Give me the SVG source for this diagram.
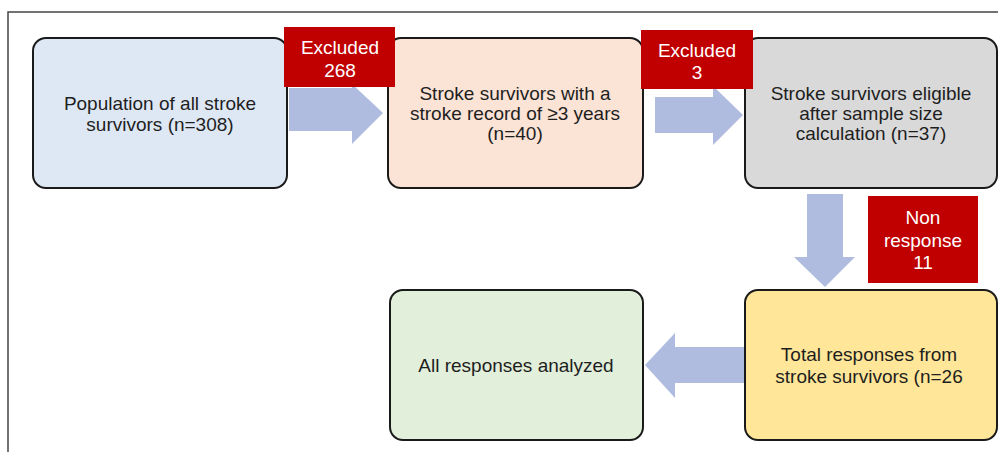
<svg xmlns="http://www.w3.org/2000/svg" width="998" height="452" viewBox="0 0 998 452">
<style>
.box{stroke:#1a1a1a;stroke-width:2}
.t{font-family:"Liberation Sans",Arial,sans-serif;font-size:19px;fill:#1e1e1e;text-anchor:middle}
.w{font-family:"Liberation Sans",Arial,sans-serif;font-size:19px;fill:#fff;text-anchor:middle}
.red{fill:#c00000}
.arr{fill:#b0bcdf}
</style>
<rect width="998" height="452" fill="#fff"/>
<path d="M8,452 V12 H998" fill="none" stroke="#444" stroke-width="1.5"/>
<g id="connectors">
<polygon class="arr" points="289,88 352,88 352,84 383,113 352,144 352,131 289,131"/>
<polygon class="arr" points="655,97 713,97 713,86 743,115 713,145 713,133 655,133"/>
<polygon class="arr" points="807,194 843,194 843,257 855,257 825,287 794,257 807,257"/>
<polygon class="arr" points="748,347 675,347 675,333 645,365 675,398 675,383 748,383"/>
</g>
<g id="n1"><rect class="box" x="33" y="38" width="254" height="150" rx="13" fill="#dee8f5"/>
<text class="t" x="160" y="110">Population of all stroke</text><text class="t" x="160" y="131">survivors (n=308)</text></g>
<g id="n2"><rect class="box" x="388" y="38" width="255" height="150" rx="13" fill="#fbe3d5"/>
<text class="t" x="515" y="100">Stroke survivors with a</text><text class="t" x="515" y="120">stroke record of ≥3 years</text><text class="t" x="515" y="140">(n=40)</text></g>
<g id="n3"><rect class="box" x="745" y="38" width="252" height="150" rx="13" fill="#d9d9d9"/>
<text class="t" x="871" y="100">Stroke survivors eligible</text><text class="t" x="871" y="120">after sample size</text><text class="t" x="871" y="140">calculation (n=37)</text></g>
<g id="n4"><rect class="box" x="745" y="290" width="252" height="150" rx="13" fill="#ffe699"/>
<text class="t" x="869" y="361">Total responses from</text><text class="t" x="869" y="383">stroke survivors (n=26</text></g>
<g id="n5"><rect class="box" x="390" y="290" width="253" height="150" rx="13" fill="#e2efda"/>
<text class="t" x="516" y="372">All responses analyzed</text></g>
<g id="x1"><rect class="red" x="284" y="27" width="111" height="60"/>
<text class="w" x="340" y="54">Excluded</text><text class="w" x="340" y="77">268</text></g>
<g id="x2"><rect class="red" x="641" y="30" width="112" height="59"/>
<text class="w" x="697" y="57">Excluded</text><text class="w" x="697" y="79">3</text></g>
<g id="x3"><rect class="red" x="868" y="196" width="110" height="87"/>
<text class="w" x="923" y="224">Non</text><text class="w" x="923" y="247">response</text><text class="w" x="923" y="269">11</text></g>
</svg>
